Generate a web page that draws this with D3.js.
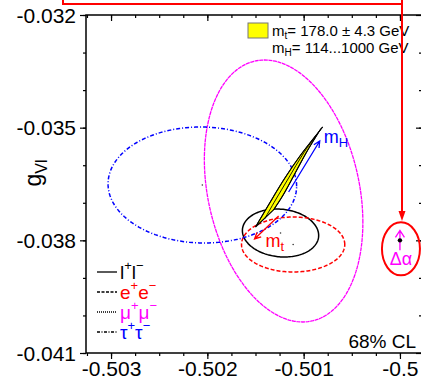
<!DOCTYPE html>
<html>
<head>
<meta charset="utf-8">
<script src="https://cdn.jsdelivr.net/npm/d3@7"></script>
<style>
  body { margin: 0; background: #fff; }
  svg { display: block; font-family: "Liberation Sans", Arial, sans-serif; }
  .axis .domain { display: none; }
  .axis line { stroke: #000; stroke-width: 1.2; }
</style>
</head>
<body>
<div id="chart"></div>
<script>
// axis ticks
var xMajor = [-0.503, -0.502, -0.501, -0.5];
var xTickLabels = ["-0.503", "-0.502", "-0.501", "-0.5"];
var yMajor = [-0.032, -0.035, -0.038, -0.041];
var yTickLabels = ["-0.032", "-0.035", "-0.038", "-0.041"];

// 68% CL contours: centre, sigma and correlation in (gAl, gVl)
var contourNames = ["ll", "ee", "mumu", "tautau"];
var centerA = [-0.501240, -0.501109, -0.501208, -0.502052];
var centerV = [-0.037805, -0.038111, -0.036686, -0.036527];
var sigmaA = [0.000396, 0.000536, 0.000823, 0.000979];
var sigmaV = [0.000639, 0.000732, 0.003488, 0.001544];
var corr = [-0.10, 0.0, -0.24, -0.02];
var contourColors = ["#000000", "#ff0000", "#ff00ff", "#0000ff"];
var contourDash = [null, "4,2", "4,0.6", "4,2,1,2"];

// SM prediction, mH = 114, 200, 300, 500, 1000 GeV for three mt values
var mtValues = [182.3, 178.0, 173.7];
var smA = [
  [-0.501500, -0.501365, -0.501208, -0.501031, -0.500802],
  [-0.501406, -0.501292, -0.501156, -0.501000, -0.500813],
  [-0.501313, -0.501219, -0.501104, -0.500969, -0.500823]
];
var smV = [
  [-0.037645, -0.037059, -0.036393, -0.035728, -0.034982],
  [-0.037432, -0.036926, -0.036340, -0.035675, -0.035009],
  [-0.037192, -0.036820, -0.036287, -0.035648, -0.035035]
];

// arrows showing the direction of mH and mt
var arrowMH = [[-0.501156, -0.036713], [-0.500833, -0.035355]];
var arrowMt = [[-0.501260, -0.037352], [-0.501510, -0.037964]];
var alphaPoint = [-0.5, -0.0380];

var legendLabels = [["l", "+", "l", "\u2212"], ["e", "+", "e", "\u2212"],
                    ["\u03bc", "+", "\u03bc", "\u2212"], ["\u03c4", "+", "\u03c4", "\u2212"]];

var width = 421, height = 385;
var svg = d3.select("#chart").append("svg")
  .attr("width", width).attr("height", height);

var pLeft = 86, pRight = 422, pTop = 15, pBottom = 353;
var x = d3.scaleLinear().domain([-0.50326, -0.499771]).range([pLeft, pRight]);
var y = d3.scaleLinear().domain([-0.041, -0.032]).range([pBottom, pTop]);

var xMinor = d3.range(-0.50325, -0.49975, 0.00025);
var yMinor = d3.range(-0.041, -0.0319, 0.001);

function addAxis(axisFn, scale, vals, size, tr, labels) {
  var a = axisFn(scale).tickValues(vals).tickSize(size).tickSizeOuter(0);
  if (labels) a.tickFormat(function (d, i) { return labels[i]; });
  else a.tickFormat("");
  var g = svg.append("g").attr("class", "axis").attr("transform", tr).call(a);
  return g;
}

// bottom / left outside, top / right inside
var gxb = addAxis(d3.axisBottom, x, xMajor, 6, "translate(0," + pBottom + ")", xTickLabels);
addAxis(d3.axisBottom, x, xMinor, 3, "translate(0," + pBottom + ")");
addAxis(d3.axisTop, x, xMajor, -6, "translate(0," + pTop + ")");
addAxis(d3.axisTop, x, xMinor, -3, "translate(0," + pTop + ")");
var gyl = addAxis(d3.axisLeft, y, yMajor, 6, "translate(" + pLeft + ",0)", yTickLabels);
addAxis(d3.axisLeft, y, yMinor, 3, "translate(" + pLeft + ",0)");
addAxis(d3.axisRight, y, yMajor, -6, "translate(" + pRight + ",0)");
addAxis(d3.axisRight, y, yMinor, -3, "translate(" + pRight + ",0)");

gxb.selectAll("text").attr("font-size", 21).attr("fill", "#000")
  .attr("font-family", "Liberation Sans, Arial, sans-serif").attr("y", 8).attr("dy", "0.71em");
gyl.selectAll("text").attr("font-size", 21).attr("fill", "#000")
  .attr("font-family", "Liberation Sans, Arial, sans-serif").attr("x", -10).attr("dy", "0.34em");

svg.append("rect")
  .attr("x", pLeft).attr("y", pTop)
  .attr("width", pRight - pLeft).attr("height", pBottom - pTop)
  .attr("fill", "none").attr("stroke", "#000").attr("stroke-width", 1.5);

// y axis title
var yt = svg.append("text")
  .attr("transform", "translate(41,173) rotate(-90)")
  .attr("text-anchor", "middle").attr("font-size", 23);
yt.append("tspan").text("g");
yt.append("tspan").attr("font-size", 16).attr("dy", 6).text("Vl");

// contours
var thetas = d3.range(0, 2 * Math.PI + 0.001, Math.PI / 90);
var contourLine = d3.line().x(function (d) { return x(d[0]); }).y(function (d) { return y(d[1]); });

contourNames.forEach(function (name, i) {
  var pts = thetas.map(function (t) {
    var a = centerA[i] + sigmaA[i] * Math.cos(t);
    var v = centerV[i] + sigmaV[i] * (corr[i] * Math.cos(t) + Math.sqrt(1 - corr[i] * corr[i]) * Math.sin(t));
    return [a, v];
  });
  svg.append("path")
    .attr("d", contourLine(pts))
    .attr("fill", "none")
    .attr("stroke", contourColors[i])
    .attr("stroke-width", i == 2 ? 1.3 : 1.5)
    .attr("stroke-dasharray", contourDash[i]);
  svg.append("circle")
    .attr("cx", x(centerA[i])).attr("cy", y(centerV[i]))
    .attr("r", 0.8).attr("fill", "#333");
});

// SM band
var smLine = d3.line().curve(d3.curveCatmullRom)
  .x(function (d) { return x(d[0]); }).y(function (d) { return y(d[1]); });
var curves = mtValues.map(function (m, i) {
  return smA[i].map(function (a, j) { return [a, smV[i][j]]; });
});
svg.append("path")
  .attr("d", smLine(curves[0]) + "L" + smLine(curves[2].slice().reverse()).slice(1) + "Z")
  .attr("fill", "#ffff00").attr("stroke", "#000").attr("stroke-width", 1.1);
curves.forEach(function (c) {
  svg.append("path").attr("d", smLine(c))
    .attr("fill", "none").attr("stroke", "#000").attr("stroke-width", 0.9);
});

// arrows
function arrow(p, color, w) {
  var x0 = x(p[0][0]), y0 = y(p[0][1]), x1 = x(p[1][0]), y1 = y(p[1][1]);
  var ang = Math.atan2(y1 - y0, x1 - x0), h = 7, s = 0.45;
  svg.append("path")
    .attr("d", "M" + x0 + "," + y0 + "L" + x1 + "," + y1 +
      "M" + (x1 - h * Math.cos(ang - s)) + "," + (y1 - h * Math.sin(ang - s)) +
      "L" + x1 + "," + y1 +
      "L" + (x1 - h * Math.cos(ang + s)) + "," + (y1 - h * Math.sin(ang + s)))
    .attr("fill", "none").attr("stroke", color).attr("stroke-width", w);
  return [x1, y1];
}
var eH = arrow(arrowMH, "#0000ff", 1.3);
var eT = arrow(arrowMt, "#ff0000", 1.3);

var tH = svg.append("text").attr("x", eH[0] + 4).attr("y", eH[1] + 2)
  .attr("fill", "#0000ff").attr("font-size", 18);
tH.append("tspan").text("m");
tH.append("tspan").attr("font-size", 13).attr("dy", 4).text("H");
var tT = svg.append("text").attr("x", eT[0] + 11).attr("y", eT[1] + 8)
  .attr("fill", "#ff0000").attr("font-size", 18);
tT.append("tspan").text("m");
tT.append("tspan").attr("font-size", 13).attr("dy", 4).text("t");

// legend (bottom left)
var legY = [272, 292, 312, 332];
legendLabels.forEach(function (lab, i) {
  svg.append("line")
    .attr("x1", 97).attr("x2", 117).attr("y1", legY[i]).attr("y2", legY[i])
    .attr("stroke", "#000").attr("stroke-width", 1.3)
    .attr("stroke-dasharray", [null, "3,1.5", "1,1", "3,1.5,1,1.5"][i]);
  var t = svg.append("text").attr("x", 120).attr("y", legY[i] + 6.5)
    .attr("font-size", 19).attr("fill", i == 0 ? "#000" : contourColors[i]);
  t.append("tspan").text(lab[0]);
  t.append("tspan").attr("font-size", 13).attr("dy", -9).text(lab[1]);
  t.append("tspan").attr("dy", 9).text(lab[2]);
  t.append("tspan").attr("font-size", 13).attr("dy", -9).text(lab[3]);
});

// legend (top)
svg.append("rect").attr("x", 248).attr("y", 23).attr("width", 20).attr("height", 15)
  .attr("fill", "#ffff00").attr("stroke", "#777").attr("stroke-width", 1);
var l1 = svg.append("text").attr("x", 272).attr("y", 36).attr("font-size", 15);
l1.append("tspan").text("m");
l1.append("tspan").attr("font-size", 10).attr("dy", 3).text("t");
l1.append("tspan").attr("dy", -3).text("= 178.0 \u00b1 4.3 GeV");
var l2 = svg.append("text").attr("x", 272).attr("y", 53).attr("font-size", 15);
l2.append("tspan").text("m");
l2.append("tspan").attr("font-size", 10).attr("dy", 3).text("H");
l2.append("tspan").attr("dy", -3).text("= 114...1000 GeV");

svg.append("text").attr("x", 416).attr("y", 348).attr("text-anchor", "end")
  .attr("font-size", 19).text("68% CL");

// delta alpha marker
var ax = x(alphaPoint[0]), ay = y(alphaPoint[1]);
svg.append("ellipse").attr("cx", ax + 1).attr("cy", ay + 8.5).attr("rx", 19).attr("ry", 26.5)
  .attr("fill", "none").attr("stroke", "#ff0000").attr("stroke-width", 2);
svg.append("path")
  .attr("d", "M" + ax + "," + (ay + 10) + "V" + (ay - 10) +
    "M" + (ax - 4.5) + "," + (ay - 3) + "L" + ax + "," + (ay - 10) + "L" + (ax + 4.5) + "," + (ay - 3))
  .attr("fill", "none").attr("stroke", "#ff00ff").attr("stroke-width", 1.3);
svg.append("circle").attr("cx", ax).attr("cy", ay).attr("r", 2.2).attr("fill", "#000");
svg.append("text").attr("x", ax + 1).attr("y", ay + 25).attr("text-anchor", "middle")
  .attr("font-size", 18).attr("fill", "#ff00ff").text("\u0394\u03b1");

// red connector from above
svg.append("path").attr("d", "M63,-5V4H402V-5M402,4V212")
  .attr("fill", "none").attr("stroke", "#ff0000").attr("stroke-width", 2);
svg.append("path").attr("d", "M398.5,211L402,221L405.5,211Z").attr("fill", "#ff0000");
</script>
</body>
</html>
